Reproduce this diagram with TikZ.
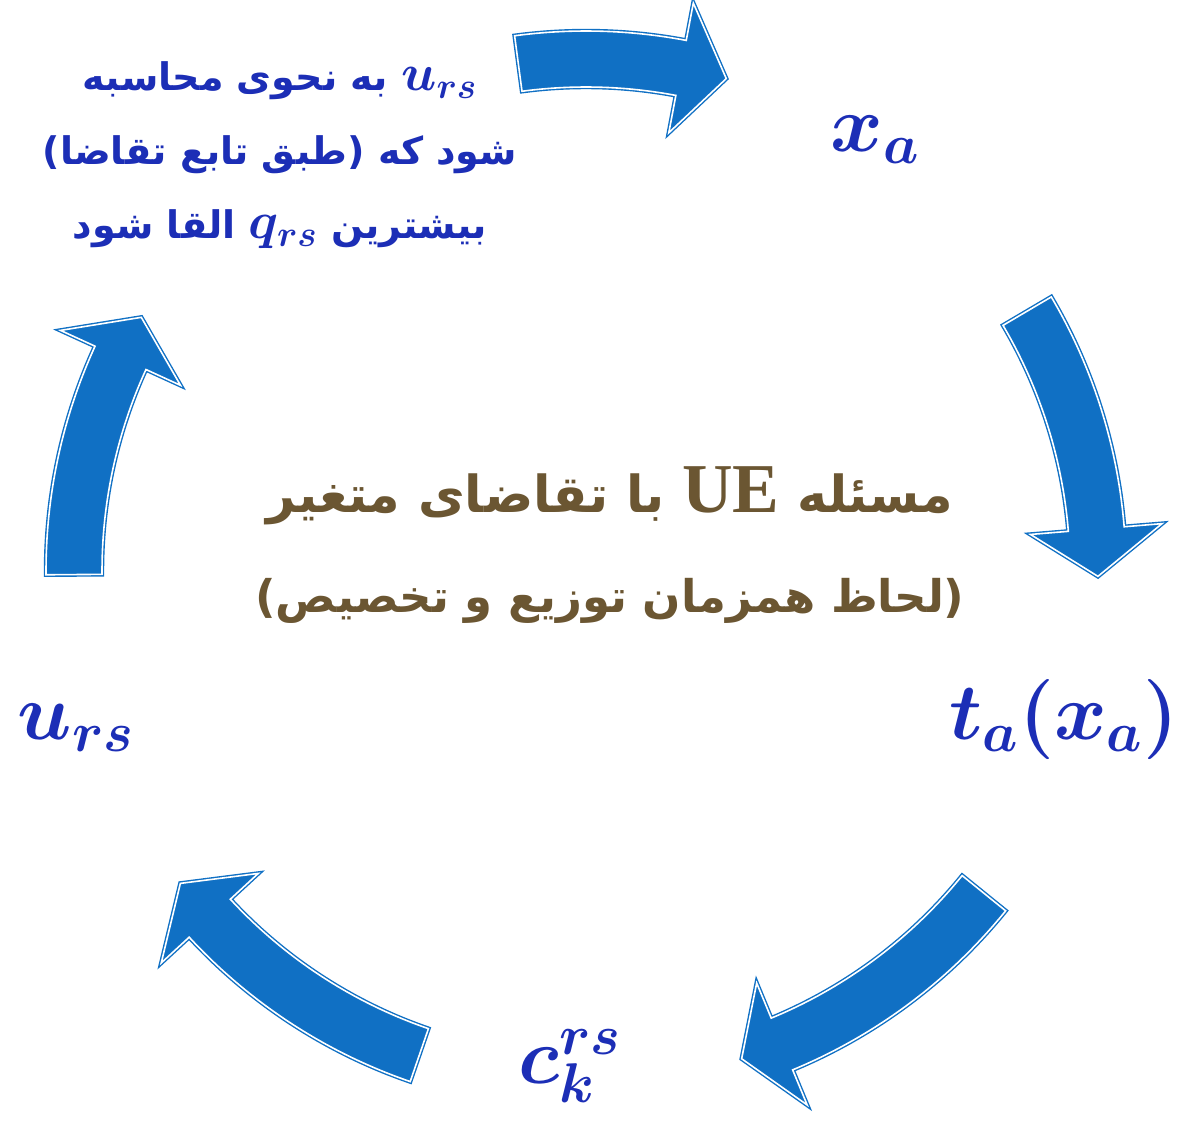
\RequirePackage{fix-cm}
\documentclass[tikz,border=0pt]{standalone}
\usepackage{amsmath}
\usepackage{bm}
\usepackage{fontspec}
\usepackage{tikz}
\usetikzlibrary{positioning,calc}
\TeXXeTstate=1
\newfontfamily\persianfont[Script=Arabic]{DejaVu Sans}
\newfontfamily\uefont{Liberation Serif}
\definecolor{arrowblue}{RGB}{16,112,196}
\definecolor{textblue}{RGB}{28,46,182}
\definecolor{titlebrown}{RGB}{107,86,50}
\tikzstyle{bigarrow} = [fill=arrowblue, draw=arrowblue, double=white, double distance=0.8pt, line width=0.7pt]
\tikzstyle{var} = [text=textblue, font=\fontsize{40}{48}\selectfont, inner sep=0pt]
\tikzstyle{note} = [text=textblue, font=\persianfont\bfseries\fontsize{19}{37}\selectfont, align=center, inner sep=0pt]
\tikzstyle{title} = [text=titlebrown, font=\persianfont\bfseries\fontsize{25.5}{50}\selectfont, align=center, inner sep=0pt]
\newcommand{\inmath}[1]{\beginL{\fontsize{26}{30}\selectfont$\bm{#1}$}\endL{}}
% arrow on the cycle: tail angle, head base angle, tip angle
\newcommand{\cyclearrow}[3]{%
  \draw[bigarrow] (#1:270pt) arc[start angle=#1, end angle=#2, radius=270pt]
    -- (#2:289pt) -- (#3:256pt) -- (#2:223pt) -- (#2:242pt)
    arc[start angle=#2, end angle=#1, radius=242pt] -- cycle;}

\begin{document}
\begin{tikzpicture}[x=1pt, y=1pt]
    \useasboundingbox (0,0) rectangle (591.5,560);
    \coordinate (center) at (293,274.5);

    % Arrows
    \begin{scope}[shift={(center)}]
        \cyclearrow{97.6}{79.3}{74.1}
        \cyclearrow{30.5}{4.7}{-0.6}
        \cyclearrow{-39}{-67.5}{-72.3}
        \cyclearrow{-109}{-137.3}{-142.4}
        \cyclearrow{180.4}{155.4}{150.3}
    \end{scope}

    % Variables
    \node [var] (flow) at (437.5,490) {$\bm{x_a}$};
    \node [var] (time) at (532,200) {$\bm{t_a(x_a)}$};
    \node [var] (cost) at (285,27) {$\bm{c_k^{rs}}$};
    \node [var] (util) at (38,196) {$\bm{u_{rs}}$};

    % Texts
    \node [note] (demand) at (140,482.5) {%
        \beginR\inmath{u_{rs}} به نحوی محاسبه\endR\\
        \beginR شود که (طبق تابع تقاضا)\endR\\
        \beginR بیشترین \inmath{q_{rs}} القا شود\endR};
    \node [title] (problem) at (305,287.5) {%
        \beginR مسئله \beginL{\uefont\bfseries\fontsize{35}{40}\selectfont UE}\endL{} با تقاضای متغیر\endR\\
        {\fontsize{22.5}{50}\selectfont\beginR (لحاظ همزمان توزیع و تخصیص)\endR}};
\end{tikzpicture}
\end{document}
